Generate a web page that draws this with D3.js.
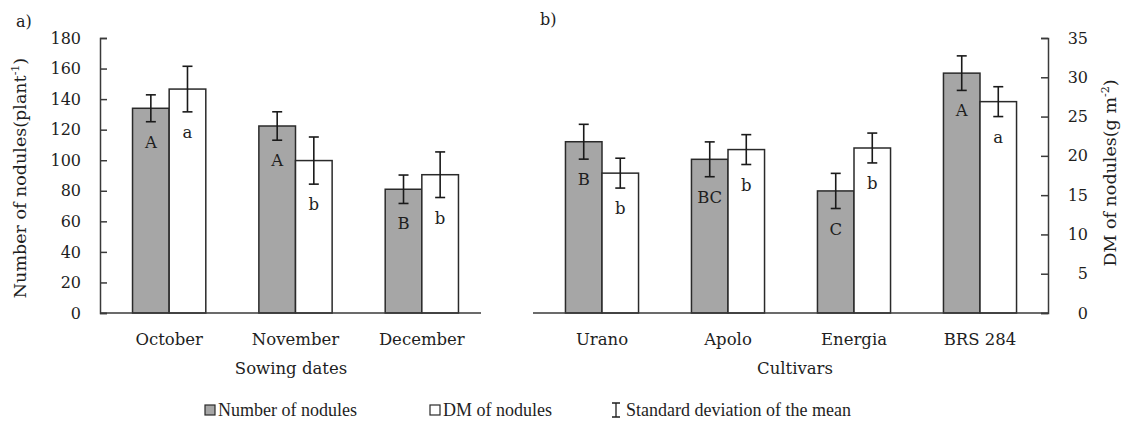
<!DOCTYPE html>
<html>
<head>
<meta charset="utf-8">
<script src="https://cdn.jsdelivr.net/npm/d3@7"></script>
<style>
  body { margin: 0; background: #fff; }
  svg text { font-family: "DejaVu Serif", serif; fill: #1e1e1e; }
</style>
</head>
<body>
<svg id="chart"></svg>
<script>
// Panel a) sowing dates
const sowingDates = ['October', 'November', 'December'];
const sowingNodules = [134, 122.4, 81];
const sowingNodulesSd = [8.8, 9.3, 9.3];
const sowingNodulesLetters = ['A', 'A', 'B'];
const sowingDM = [28.5, 19.4, 17.6];
const sowingDMSd = [2.9, 3.0, 2.9];
const sowingDMLetters = ['a', 'b', 'b'];

// Panel b) cultivars
const cultivars = ['Urano', 'Apolo', 'Energia', 'BRS 284'];
const cultivarNodules = [112.1, 100.6, 79.9, 157];
const cultivarNodulesSd = [11.4, 11.4, 11.5, 11.3];
const cultivarNodulesLetters = ['B', 'BC', 'C', 'A'];
const cultivarDM = [17.8, 20.8, 21.0, 26.9];
const cultivarDMSd = [1.9, 1.9, 1.9, 1.9];
const cultivarDMLetters = ['b', 'b', 'b', 'a'];

// Axis ticks
const nodulesTicks = [0, 20, 40, 60, 80, 100, 120, 140, 160, 180];
const dmTicks = [0, 5, 10, 15, 20, 25, 30, 35];

const legendLabels = ['Number of nodules', 'DM of nodules', 'Standard deviation of the mean'];

const width = 1128, height = 421;
const plotTop = 38, plotBottom = 313;
const grayFill = '#a6a6a6', barStroke = '#2a2a2a';

const svg = d3.select('#chart')
    .attr('width', width)
    .attr('height', height);

// Shared vertical scales
const yNum = d3.scaleLinear().domain([0, 180]).range([plotBottom, plotTop]);
const yDM = d3.scaleLinear().domain([0, 35]).range([plotBottom, plotTop]);

function drawPanel(cats, num, numSd, numLet, dm, dmSd, dmLet, bandRange, baseRange) {
    const x = d3.scaleBand().domain(cats).range(bandRange)
        .paddingInner(0.42).paddingOuter(0.21);
    const xs = d3.scaleBand().domain(['num', 'dm']).range([0, x.bandwidth()]);

    const rows = cats.map((c, i) => [
        { cat: c, key: 'num', v: num[i], sd: numSd[i], letter: numLet[i], y: yNum, fill: grayFill },
        { cat: c, key: 'dm', v: dm[i], sd: dmSd[i], letter: dmLet[i], y: yDM, fill: '#fff' }
    ]).flat();

    const g = svg.append('g');

    // Bars
    g.selectAll('rect')
        .data(rows)
        .enter()
        .append('rect')
        .attr('x', d => x(d.cat) + xs(d.key))
        .attr('y', d => d.y(d.v))
        .attr('width', xs.bandwidth())
        .attr('height', d => plotBottom - d.y(d.v))
        .attr('fill', d => d.fill)
        .attr('stroke', barStroke)
        .attr('stroke-width', 1.5);

    // Baseline
    g.append('line')
        .attr('x1', baseRange[0]).attr('x2', baseRange[1])
        .attr('y1', plotBottom).attr('y2', plotBottom)
        .attr('stroke', '#3a3a3a').attr('stroke-width', 1.5);

    // Error bars
    const eb = g.selectAll('g.err')
        .data(rows)
        .enter()
        .append('g')
        .attr('class', 'err')
        .attr('stroke', '#1a1a1a')
        .attr('stroke-width', 1.6);
    const cx = d => x(d.cat) + xs(d.key) + xs.bandwidth() / 2;
    eb.append('line')
        .attr('x1', cx).attr('x2', cx)
        .attr('y1', d => d.y(d.v + d.sd))
        .attr('y2', d => d.y(d.v - d.sd));
    eb.append('line')
        .attr('x1', d => cx(d) - 5).attr('x2', d => cx(d) + 5)
        .attr('y1', d => d.y(d.v + d.sd)).attr('y2', d => d.y(d.v + d.sd));
    eb.append('line')
        .attr('x1', d => cx(d) - 5).attr('x2', d => cx(d) + 5)
        .attr('y1', d => d.y(d.v - d.sd)).attr('y2', d => d.y(d.v - d.sd));

    // Significance letters below the error bars
    g.selectAll('text.letter')
        .data(rows)
        .enter()
        .append('text')
        .attr('class', 'letter')
        .attr('x', cx)
        .attr('y', d => d.y(d.v - d.sd) + 26)
        .attr('text-anchor', 'middle')
        .style('font-size', '16.5px')
        .text(d => d.letter);

    // Category labels
    g.selectAll('text.cat')
        .data(cats)
        .enter()
        .append('text')
        .attr('class', 'cat')
        .attr('x', d => x(d) + x.bandwidth() / 2)
        .attr('y', 345)
        .attr('text-anchor', 'middle')
        .style('font-size', '16.5px')
        .text(d => d);

    return g;
}

drawPanel(sowingDates, sowingNodules, sowingNodulesSd, sowingNodulesLetters,
    sowingDM, sowingDMSd, sowingDMLetters, [106, 485], [100, 481]);
drawPanel(cultivars, cultivarNodules, cultivarNodulesSd, cultivarNodulesLetters,
    cultivarDM, cultivarDMSd, cultivarDMLetters, [539, 1043], [533, 1048]);

// Left axis (ticks point inward)
const leftAxis = svg.append('g')
    .attr('transform', 'translate(100,0)')
    .call(d3.axisLeft(yNum).tickValues(nodulesTicks).tickSizeInner(-7).tickSizeOuter(-7).tickPadding(19));
leftAxis.selectAll('path, line').attr('stroke', '#3a3a3a').attr('stroke-width', 1.5);
leftAxis.selectAll('text').style('font-size', '16px').style('font-family', '"DejaVu Serif", serif').attr('fill', '#1e1e1e');

// Right axis
const rightAxis = svg.append('g')
    .attr('transform', 'translate(1048,0)')
    .call(d3.axisRight(yDM).tickValues(dmTicks).tickSizeInner(-7).tickSizeOuter(-7).tickPadding(40));
rightAxis.selectAll('path, line').attr('stroke', '#3a3a3a').attr('stroke-width', 1.5);
rightAxis.selectAll('text').attr('text-anchor', 'end').style('font-size', '16px')
    .style('font-family', '"DejaVu Serif", serif').attr('fill', '#1e1e1e');

// Axis titles
const yLeft = svg.append('text')
    .attr('transform', 'translate(26,178) rotate(-90)')
    .attr('text-anchor', 'middle')
    .style('font-size', '17.5px');
yLeft.append('tspan').text('Number of nodules(plant');
yLeft.append('tspan').attr('dy', -7).style('font-size', '11px').text('-1');
yLeft.append('tspan').attr('dy', 7).text(')');

const yRight = svg.append('text')
    .attr('transform', 'translate(1116,173) rotate(-90)')
    .attr('text-anchor', 'middle')
    .style('font-size', '17.5px');
yRight.append('tspan').text('DM of nodules(g m');
yRight.append('tspan').attr('dy', -7).style('font-size', '11px').text('-2');
yRight.append('tspan').attr('dy', 7).text(')');

svg.append('text').attr('x', 291).attr('y', 374).attr('text-anchor', 'middle')
    .style('font-size', '16.5px').text('Sowing dates');
svg.append('text').attr('x', 795).attr('y', 374).attr('text-anchor', 'middle')
    .style('font-size', '16.5px').text('Cultivars');

// Panel tags
svg.append('text').attr('x', 16).attr('y', 27).style('font-size', '16px').text('a)');
svg.append('text').attr('x', 540).attr('y', 25).style('font-size', '16px').text('b)');

// Legend
const legend = svg.append('g');
legend.append('rect').attr('x', 205).attr('y', 405).attr('width', 10).attr('height', 10)
    .attr('fill', grayFill).attr('stroke', barStroke).attr('stroke-width', 1.2);
legend.append('rect').attr('x', 430).attr('y', 405).attr('width', 10).attr('height', 10)
    .attr('fill', '#fff').attr('stroke', barStroke).attr('stroke-width', 1.2);
legend.append('path').attr('d', 'M612,403H620M616,403V417M612,417H620')
    .attr('fill', 'none').attr('stroke', '#1e1e1e').attr('stroke-width', 1.3);
legend.selectAll('text')
    .data(legendLabels)
    .enter()
    .append('text')
    .attr('x', (d, i) => [218, 443, 626][i])
    .attr('y', 416)
    .style('font-family', '"Liberation Serif", serif')
    .style('font-size', '18px')
    .text(d => d);
</script>
</body>
</html>
